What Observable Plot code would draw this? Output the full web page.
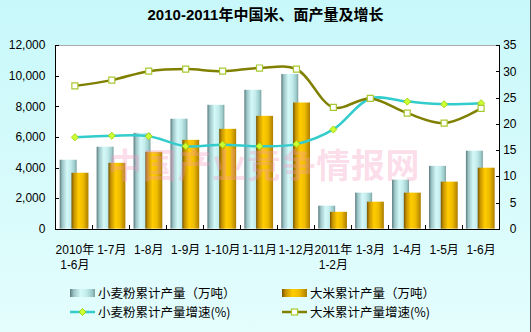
<!DOCTYPE html>
<html><head><meta charset="utf-8">
<script src="https://cdn.jsdelivr.net/npm/d3@7"></script>
<script src="https://cdn.jsdelivr.net/npm/@observablehq/plot@0.6"></script>
<style>
body{margin:0;}
#wrap{position:relative;width:531px;height:332px;background:linear-gradient(#c8f8fa,#e4fdfd);font-family:"Liberation Sans","Noto Sans CJK SC",sans-serif;overflow:hidden;box-sizing:border-box;border-right:1px solid #555;}
#title{position:absolute;top:0;left:0;width:531px;height:30px;line-height:29px;text-align:center;font-weight:bold;font-size:15px;color:#000;}
#chart{position:absolute;top:30px;left:0;}
#wm{position:absolute;left:108px;top:147px;font-size:34px;line-height:34px;font-weight:bold;letter-spacing:0.7px;color:rgba(245,150,190,0.33);font-family:"Noto Sans CJK SC",sans-serif;white-space:nowrap;pointer-events:none;}
.lg{position:absolute;height:14px;line-height:14px;font-size:12.5px;font-family:"Noto Sans CJK SC","Liberation Sans",sans-serif;white-space:nowrap;display:flex;align-items:center;}
.lg span{line-height:14px;display:inline-block;height:14px;}
.lg svg{margin-right:2px;}
</style></head>
<body>
<svg width="0" height="0" style="position:absolute">
<defs>
<linearGradient id="gWheat" x1="0" x2="1" y1="0" y2="0">
<stop offset="0" stop-color="#5a7b7e"/><stop offset="0.15" stop-color="#9cc4c6"/><stop offset="0.42" stop-color="#d4f8f8"/><stop offset="0.65" stop-color="#c4ecec"/><stop offset="0.88" stop-color="#9ccccc"/><stop offset="1" stop-color="#7c9e9e"/>
</linearGradient>
<linearGradient id="gRice" x1="0" x2="1" y1="0" y2="0">
<stop offset="0" stop-color="#765600"/><stop offset="0.15" stop-color="#c69300"/><stop offset="0.42" stop-color="#ffcc00"/><stop offset="0.68" stop-color="#f0bd00"/><stop offset="1" stop-color="#ad7e00"/>
</linearGradient>
</defs></svg>
<div id="wrap">
<div id="title">2010-2011年中国米、面产量及增长</div>
<div id="chart"></div>
<div id="wm">中国产业竞争情报网</div>
<div class="lg" style="left:70px;top:286px"><svg width="26" height="8"><rect x="0" y="0" width="25" height="8" fill="url(#gWheat)"/></svg><span>小麦粉累计产量（万吨）</span></div>
<div class="lg" style="left:282px;top:286px"><svg width="26" height="8"><rect x="0" y="0" width="25" height="8" fill="url(#gRice)"/></svg><span>大米累计产量（万吨）</span></div>
<div class="lg" style="left:70px;top:305px"><svg width="26" height="10"><line x1="0" x2="25" y1="5" y2="5" stroke="#33cccc" stroke-width="2.5"/><path d="M12.5,1.5L16,5L12.5,8.5L9,5Z" fill="#ccff33" stroke="#99cc00" stroke-width="0.8"/></svg><span>小麦粉累计产量增速(%)</span></div>
<div class="lg" style="left:282px;top:305px"><svg width="26" height="10"><line x1="0" x2="25" y1="5" y2="5" stroke="#808000" stroke-width="2.5"/><rect x="9.5" y="2" width="6" height="6" fill="#fff" stroke="#a8c830" stroke-width="1.2"/></svg><span>大米累计产量增速(%)</span></div>
</div>
<script>
const categories = ["2010年\n1-6月","1-7月","1-8月","1-9月","1-10月","1-11月","1-12月","2011年\n1-2月","1-3月","1-4月","1-5月","1-6月"];
const wheatOutput = [4500,5350,6260,7180,8090,9070,10100,1500,2350,3200,4100,5090];
const riceOutput = [3650,4300,5020,5800,6520,7370,8240,1100,1760,2350,3070,3980];
const wheatGrowth = [17.5,17.8,17.7,15.8,16.1,15.8,16.2,19.0,24.9,24.3,23.8,24.0];
const riceGrowth = [27.3,28.4,30.1,30.5,30.1,30.7,30.5,23.2,24.9,22.1,20.2,23.0];
const leftTicks = [0,2000,4000,6000,8000,10000,12000];
const rightTicks = [0,5,10,15,20,25,30,35];

const k = 12000/35;
const rows = categories.map((c,i)=>({c, wheat: wheatOutput[i], rice: riceOutput[i], wg: wheatGrowth[i]*k, rg: riceGrowth[i]*k}));

const plot = Plot.plot({
  width:531, height:245, marginTop:15, marginBottom:46, marginLeft:55, marginRight:31,
  style:{background:"transparent", fontFamily:'"Liberation Sans","Noto Sans CJK SC",sans-serif', fontSize:"12px", color:"#000", overflow:"visible"},
  x:{type:"band", domain:categories, paddingInner:0.55, paddingOuter:0.275, axis:null},
  y:{domain:[0,12000], axis:null},
  marks:[
    Plot.frame({fill:"white", stroke:"none"}),
    Plot.ruleY([12000],{stroke:"#a9a9a9"}),
    Plot.barY(rows,{x:"c", y:"wheat", fill:"url(#gWheat)", dx:-6.2}),
    Plot.barY(rows,{x:"c", y:"rice", fill:"url(#gRice)", dx:5.6}),
    Plot.line(rows,{x:"c", y:"wg", stroke:"#33cccc", strokeWidth:2.5, curve:"catmull-rom"}),
    Plot.line(rows,{x:"c", y:"rg", stroke:"#808000", strokeWidth:2.5, curve:"catmull-rom"}),
    Plot.dot(rows,{x:"c", y:"wg", symbol:"diamond2", r:3.2, fill:"#ccff33", stroke:"#99cc00", strokeWidth:0.8}),
    Plot.dot(rows,{x:"c", y:"rg", symbol:"square", r:3.4, fill:"white", stroke:"#a8c830", strokeWidth:1.2}),
    Plot.axisY({anchor:"left", ticks:leftTicks, tickFormat:d3.format(","), tickSize:0, tickPadding:10, label:null}),
    Plot.axisY({anchor:"right", ticks:rightTicks.map(v=>v*k), tickFormat:d=>String(Math.round(d/k)), tickSize:0, tickPadding:17, textAnchor:"end", label:null}),
    Plot.axisX({anchor:"bottom", tickSize:0, tickPadding:14, lineHeight:1.25, label:null})
  ]
});
document.getElementById("chart").appendChild(plot);

// axis lines and inward ticks, positioned by the plot's own scales
const xs = plot.scale("x"), ys = plot.scale("y");
const [x0, x1] = xs.range;
const yb = ys.apply(0), yt = ys.apply(12000);
const g = d3.select(plot).append("g").attr("stroke","#000").attr("stroke-width",1).attr("shape-rendering","crispEdges");
const px = v => Math.round(v) + 0.5;
g.append("line").attr("x1",px(x0)).attr("x2",px(x0)).attr("y1",yt).attr("y2",yb);
g.append("line").attr("x1",px(x1)).attr("x2",px(x1)).attr("y1",yt).attr("y2",yb);
g.append("line").attr("x1",x0).attr("x2",x1).attr("y1",px(yb)).attr("y2",px(yb));
leftTicks.forEach(v=>g.append("line").attr("x1",px(x0)).attr("x2",px(x0)+4).attr("y1",px(ys.apply(v))).attr("y2",px(ys.apply(v))));
rightTicks.forEach(v=>g.append("line").attr("x1",px(x1)-4).attr("x2",px(x1)).attr("y1",px(ys.apply(v*k))).attr("y2",px(ys.apply(v*k))));
const step = (x1 - x0) / categories.length;
for (let i = 1; i < categories.length; i++) {
  const xx = px(x0 + i*step);
  g.append("line").attr("x1",xx).attr("x2",xx).attr("y1",px(yb)-4).attr("y2",px(yb));
}
</script>
</body></html>
